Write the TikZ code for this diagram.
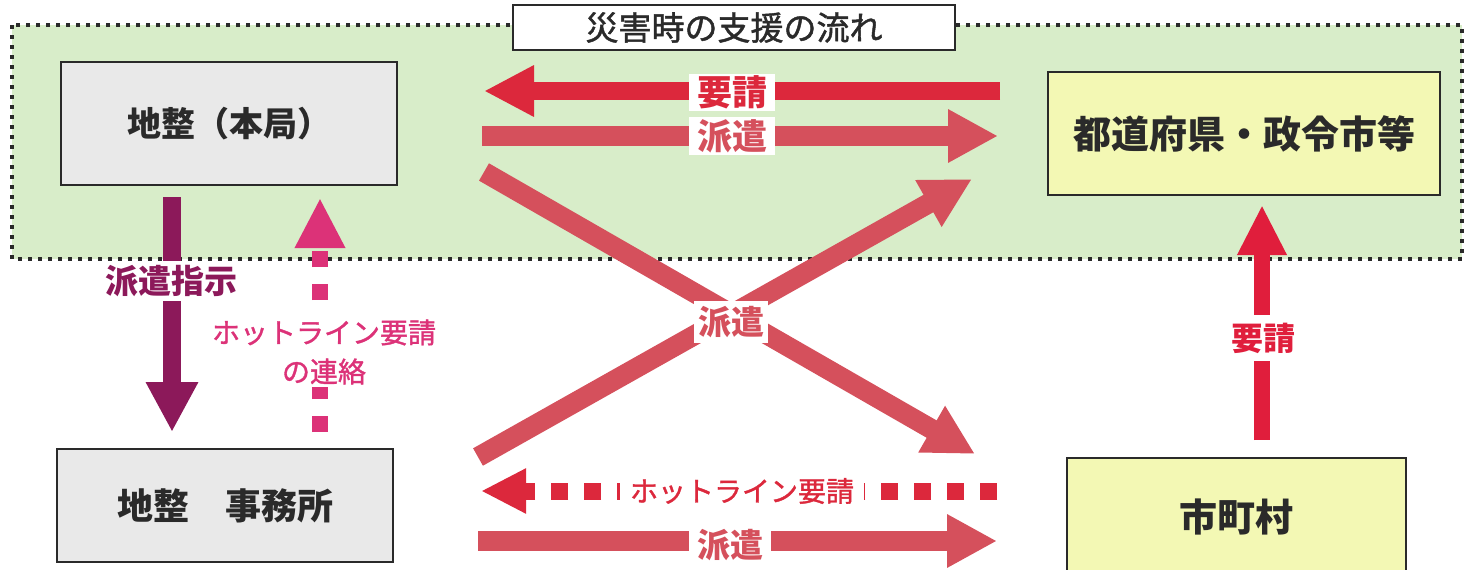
\documentclass[tikz,border=0pt]{standalone}
\usepackage{fontspec}
\setmainfont{Noto Sans CJK JP}
\newfontfamily\jpmed[FakeBold=1.3]{Noto Sans CJK JP}
\usetikzlibrary{arrows.meta}
\definecolor{bggreen}{HTML}{D8EDC9}
\definecolor{boxgray}{HTML}{E9E9E9}
\definecolor{boxyellow}{HTML}{F3F8B4}
\definecolor{reqred}{HTML}{DC283C}
\definecolor{reqred2}{HTML}{E01E3C}
\definecolor{disred}{HTML}{D5505C}
\definecolor{purp}{HTML}{8C195A}
\definecolor{pinkm}{HTML}{DC3278}
\definecolor{inkdark}{HTML}{2A2A2A}
\tikzset{
  box/.style={draw=inkdark, line width=1.6pt, minimum width=336pt, minimum height=123pt,
    inner sep=0pt, font=\fontsize{34}{40}\selectfont\bfseries, text=inkdark},
  graybox/.style={box, fill=boxgray},
  yellowbox/.style={box, fill=boxyellow},
  dotframe/.style={draw=inkdark, line width=4pt, dash pattern=on 4pt off 6pt},
  reqarr/.style={draw=reqred, line width=18pt, -{Triangle[width=48pt,length=50pt]}},
  disarr/.style={draw=disred, line width=20pt, -{Triangle[width=50pt,length=50pt]}},
  hotarr/.style={draw=reqred, line width=17pt, dash pattern=on 17pt off 16pt,
    -{Triangle[width=42pt,length=45pt]}},
  instrarr/.style={draw=purp, line width=18pt, -{Triangle[width=49pt,length=50pt]}},
  linkarr/.style={draw=pinkm, line width=16pt, dash pattern=on 16pt off 17pt,
    -{Triangle[width=47pt,length=50pt]}},
  lbl/.style={fill=white, inner xsep=8pt, inner ysep=2.5pt,
    font=\fontsize{35}{40}\selectfont\bfseries},
  lblthin/.style={fill=white, inner xsep=8pt, inner ysep=2.5pt,
    font=\fontsize{28}{39}\jpmed},
}
\begin{document}
\begin{tikzpicture}[x=1pt,y=-1pt]
\useasboundingbox (0,0) rectangle (1473,570);
\clip (0,0) rectangle (1473,570);
\fill[white] (0,0) rectangle (1473,570);

% region
\fill[bggreen] (12,25) rectangle (1462,259);
\draw[dotframe] (12,25) rectangle (1462,259);
\node[draw=inkdark, fill=white, line width=1.5pt, minimum width=442pt, minimum height=45pt,
  inner sep=0pt, text=inkdark, font=\fontsize{33}{38}\jpmed] (title) at (734,27.5) {災害時の支援の流れ};

% nodes
\node[graybox] (hq) at (229,123.5) {地整（本局）};
\node[yellowbox, minimum width=392pt, font=\fontsize{38}{44}\selectfont\bfseries] (pref) at (1244,133.5) {都道府県・政令市等};
\node[graybox, minimum height=113pt, font=\fontsize{36}{42}\selectfont\bfseries] (office) at (225,505.5) {地整　事務所};
\node[yellowbox, minimum width=339pt, minimum height=117pt, font=\fontsize{38}{44}\selectfont\bfseries] (muni) at (1236.5,516.5) {市町村};

% arrow end points
\coordinate (rt1) at (1000,91);  \coordinate (rt2) at (484,91);
\coordinate (dt1) at (482,136);  \coordinate (dt2) at (998,136);
\coordinate (da1) at (484,172);  \coordinate (da2) at (975,454);
\coordinate (db1) at (478,457);  \coordinate (db2) at (972,179);
\coordinate (hb1) at (997,491);  \coordinate (hb2) at (481,491);
\coordinate (pb1) at (478,541);  \coordinate (pb2) at (997,541);
\coordinate (rr1) at (1262,440); \coordinate (rr2) at (1262,205);
\coordinate (in1) at (172,197);  \coordinate (in2) at (172,432);
\coordinate (hl1) at (320,432);  \coordinate (hl2) at (320,198);

% arrows
\draw[reqarr] (rt1) -- (rt2);
\draw[disarr] (dt1) -- (dt2);
\draw[disarr] (da1) -- (da2);
\draw[disarr] (db1) -- (db2);
\draw[hotarr] (hb1) -- (hb2);
\draw[disarr] (pb1) -- (pb2);
\draw[reqarr, draw=reqred2, line width=16pt, -{Triangle[width=46pt,length=50pt]}] (rr1) -- (rr2);
\draw[instrarr] (in1) -- (in2);
\draw[linkarr] (hl1) -- (hl2);

% labels
\node[lbl, text=reqred, inner xsep=8pt, inner ysep=2pt] (lreqtop) at (732,92.5) {要請};
\node[lbl, text=disred, inner xsep=8pt, inner ysep=2pt] (ldistop) at (732,136) {派遣};
\node[lbl, text=disred, inner xsep=4pt, inner ysep=5pt, font=\fontsize{33}{38}\selectfont\bfseries] (lx) at (731,322) {派遣};
\node[lblthin, text=reqred, inner xsep=10pt] (lhot) at (742,491) {ホットライン要請};
\node[lbl, text=disred, font=\fontsize{33}{38}\selectfont\bfseries] (ldisbot) at (730,545) {派遣};
\node[lbl, text=reqred2, inner ysep=8pt, font=\fontsize{32}{36}\selectfont\bfseries] (lreqr) at (1263,338) {要請};
\node[lbl, text=purp, inner xsep=2pt, inner ysep=4pt, font=\fontsize{33}{38}\selectfont\bfseries] (linstr) at (171,281) {派遣指示};
\node[lblthin, text=pinkm, align=center, inner xsep=2pt] (llink) at (324,352) {ホットライン要請\\の連絡};
\end{tikzpicture}
\end{document}
